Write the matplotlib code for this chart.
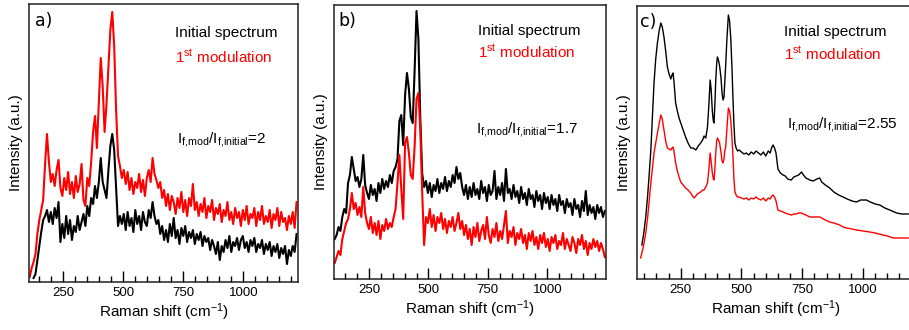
import numpy as np
import matplotlib
matplotlib.use("Agg")
import matplotlib.pyplot as plt
from matplotlib.ticker import MultipleLocator

plt.rcParams['font.family'] = ['Liberation Sans', 'DejaVu Sans']
plt.rcParams['mathtext.default'] = 'regular'

# ---- data (intensity in arbitrary units) ----
# panel a: noisy spectra sampled every 8 cm-1
a_red_start = 110
a_red = [5, 14, 20, 28, 48, 62, 72, 82, 118, 148,
         120, 100, 108, 96, 112, 122, 94, 86, 104, 92,
         110, 88, 100, 84, 106, 90, 98, 118, 82, 76,
         104, 96, 120, 150, 166, 134, 178, 224, 196, 150,
         178, 214, 252, 270, 236, 172, 126, 116, 104, 112,
         98, 110, 92, 104, 88, 100, 94, 108, 90, 102,
         86, 104, 112, 100, 124, 108, 102, 94, 100, 84,
         92, 76, 88, 72, 86, 80, 68, 84, 74, 90,
         70, 82, 66, 84, 76, 98, 72, 80, 66, 78,
         70, 84, 64, 76, 70, 82, 62, 74, 68, 78,
         60, 72, 66, 80, 62, 70, 58, 74, 64, 70,
         56, 72, 62, 76, 58, 68, 64, 74, 56, 70,
         62, 76, 58, 66, 60, 72, 54, 68, 62, 74,
         56, 70, 60, 64, 52, 66, 58, 70, 54, 80]
a_black_start = 126
a_black = [4, 8, 22, 36, 50, 62, 66, 72, 60, 70,
           58, 74, 64, 80, 40, 58, 44, 66, 48, 62,
           42, 56, 50, 66, 52, 60, 68, 56, 76, 66,
           84, 78, 96, 84, 100, 124, 100, 92, 84, 112,
           136, 148, 132, 94, 56, 66, 58, 68, 52, 70,
           56, 64, 50, 72, 58, 66, 52, 70, 60, 56,
           72, 64, 80, 66, 58, 62, 48, 56, 42, 52,
           40, 58, 46, 64, 44, 52, 38, 54, 46, 56,
           40, 50, 44, 52, 38, 48, 42, 50, 36, 46,
           40, 44, 32, 42, 36, 28, 40, 22, 36, 30,
           42, 34, 46, 30, 40, 36, 44, 32, 42, 46,
           34, 40, 30, 42, 36, 44, 30, 38, 34, 42,
           28, 38, 32, 40, 26, 36, 30, 38, 24, 34,
           28, 36, 18, 32, 26, 36, 30, 48]

# panel b
b_start = 106
b_black = [40, 44, 52, 48, 62, 70, 66, 96, 104, 122,
           110, 98, 102, 92, 100, 124, 94, 86, 80, 94,
           84, 90, 78, 96, 86, 100, 90, 98, 92, 104,
           96, 108, 112, 120, 158, 164, 134, 184, 206, 190,
           162, 156, 208, 268, 240, 160, 105, 92, 98, 86,
           96, 82, 94, 88, 100, 86, 96, 90, 102, 88,
           98, 92, 104, 96, 112, 100, 106, 92, 84, 94,
           80, 92, 82, 96, 84, 90, 80, 98, 86, 92,
           78, 94, 84, 88, 108, 80, 92, 84, 96, 78,
           110, 86, 90, 80, 94, 82, 88, 76, 92, 80,
           86, 74, 90, 80, 84, 72, 88, 78, 84, 70,
           86, 76, 82, 70, 84, 74, 80, 68, 84, 74,
           78, 66, 80, 72, 76, 64, 80, 70, 74, 62,
           78, 68, 88, 64, 74, 66, 72, 60, 74, 66, 72, 62, 68]
b_red = [16, 22, 28, 24, 40, 48, 56, 60, 70, 86,
         70, 76, 64, 72, 62, 92, 66, 56, 50, 62,
         46, 56, 44, 58, 40, 54, 48, 60, 50, 56,
         52, 62, 70, 96, 124, 90, 60, 136, 142, 126,
         104, 100, 132, 180, 186, 150, 86, 34, 62, 56,
         70, 52, 64, 48, 62, 56, 66, 50, 60, 46,
         58, 52, 62, 48, 56, 66, 50, 58, 44, 54,
         40, 50, 34, 52, 42, 56, 38, 48, 54, 40,
         62, 44, 36, 50, 42, 56, 38, 48, 40, 54,
         68, 36, 48, 42, 52, 34, 46, 40, 50, 36,
         44, 30, 46, 38, 48, 34, 42, 30, 44, 36,
         46, 32, 40, 28, 42, 36, 44, 30, 38, 34,
         46, 30, 40, 34, 28, 42, 36, 26, 40, 34,
         44, 30, 38, 24, 36, 30, 40, 32, 38, 28, 36, 30, 22]

# panel c: smoother spectra
c_black_x = [90, 98, 106, 114, 120, 127, 134, 140, 147, 154, 161, 168, 174, 181, 188,
             195, 202, 209, 214, 218, 222, 229, 236, 243, 250, 260, 270, 280, 291, 301,
             312, 322, 332, 340, 346, 353, 360, 366, 371, 375, 380, 384, 387, 391, 394,
             398, 401, 405, 410, 416, 420, 424, 428, 431, 435, 440, 446, 451, 456, 461,
             465, 469, 473, 478, 484, 490, 500, 510, 520, 530, 540, 550, 560, 570, 580,
             590, 600, 610, 618, 625, 630, 636, 642, 650, 660, 671, 680, 690, 705, 715,
             725, 735, 747, 755, 765, 781, 795, 810, 822, 830, 845, 863, 880, 900, 918,
             935, 955, 973, 990, 1014, 1030, 1050, 1069, 1090, 1110, 1138, 1160, 1186]
c_black = [34, 46, 62, 84, 104, 129, 165, 196, 220, 236, 248, 256, 252, 242, 228,
           212, 205, 200, 204, 206, 198, 176, 168, 161, 156, 149, 142, 136, 131, 131,
           129, 133, 136, 139, 143, 141, 152, 175, 199, 190, 168, 158, 156, 178, 198,
           216, 222, 219, 213, 200, 186, 179, 182, 196, 214, 240, 264, 258, 240, 210,
           180, 154, 136, 131, 128, 129, 127, 125, 126, 124, 127, 125, 128, 126, 124,
           127, 123, 128, 126, 132, 134, 131, 126, 110, 106, 104, 103, 100, 99, 102,
           103, 104, 107, 104, 101, 99, 98, 100, 101, 97, 94, 91, 87, 84, 82,
           80, 78, 77, 79, 79, 77, 75, 74, 71, 69, 66, 65, 65]
c_red_x = [85, 92, 99, 106, 114, 120, 127, 134, 140, 147, 154, 161, 168, 174, 181,
           188, 195, 202, 209, 214, 218, 222, 229, 236, 243, 250, 260, 270, 280, 291,
           298, 305, 312, 318, 325, 332, 340, 346, 353, 360, 366, 371, 375, 380, 384,
           387, 391, 394, 398, 401, 405, 410, 416, 420, 424, 428, 431, 435, 440, 446,
           451, 456, 461, 465, 469, 473, 478, 484, 490, 500, 510, 520, 530, 540, 550,
           560, 570, 580, 590, 600, 610, 618, 625, 630, 636, 642, 650, 660, 671, 680,
           690, 705, 715, 725, 735, 747, 755, 765, 781, 795, 810, 822, 830, 845, 863,
           880, 904, 918, 932, 955, 973, 1000, 1028, 1050, 1083, 1100, 1124, 1150, 1186]
c_red = [21, 28, 36, 46, 62, 78, 96, 112, 126, 136, 146, 155, 164, 160, 149,
         138, 131, 130, 129, 131, 132, 128, 116, 108, 102, 97, 94, 91, 89, 86,
         83, 81, 83, 85, 86, 87, 89, 89, 92, 96, 110, 126, 118, 106, 100,
         99, 112, 126, 138, 141, 139, 136, 126, 118, 116, 120, 128, 132, 150, 171,
         168, 159, 140, 122, 100, 87, 84, 82, 82, 81, 80, 81, 79, 81, 80,
         82, 80, 79, 81, 78, 81, 80, 83, 84, 82, 78, 69, 68, 67, 66,
         65, 64, 65, 65, 66, 66, 65, 64, 62, 62, 62, 62, 61, 59, 57,
         56, 54, 52, 51, 50, 49, 48, 47, 46, 44, 43, 41, 41, 41]

ratio_labels = ['2', '1.7', '2.55']
panel_tags = ['a)', 'b)', 'c)']
xticks_major = [250, 500, 750, 1000]

# ---- figure ----
W, H = 909, 330
fig = plt.figure(figsize=(W / 100, H / 100), dpi=100)


def px_axes(left, right, top, bottom):
    return fig.add_axes([left / W, (H - bottom) / H, (right - left) / W, (bottom - top) / H])


ax_a = px_axes(29, 298, 4, 282)
ax_b = px_axes(334, 606, 5, 279)
ax_c = px_axes(637, 915, 6, 279)

ax_a.plot(a_black_start + 8 * np.arange(len(a_black)), a_black, color='black', lw=1.5)
ax_a.plot(a_red_start + 8 * np.arange(len(a_red)), a_red, color='red', lw=1.5)
ax_b.plot(b_start + 8 * np.arange(len(b_black)), b_black, color='black', lw=1.5)
ax_b.plot(b_start + 8 * np.arange(len(b_red)), b_red, color='red', lw=1.5)
ax_c.plot(c_black_x, c_black, color='black', lw=1.0)
ax_c.plot(c_red_x, c_red, color='red', lw=1.0)

ax_a.set_xlim(107, 1228)
ax_a.set_ylim(0, 278)
ax_b.set_xlim(103, 1247)
ax_b.set_ylim(0, 274)
ax_c.set_xlim(70, 1214)
ax_c.set_ylim(0, 273)

# text positions in axes fractions: (tag), (legend x, initial y, mod y), (ratio x, y)
text_pos = [
    (0.022, 0.94, 0.543, 0.881, 0.791, 0.549, 0.50),
    (0.015, 0.94, 0.529, 0.891, 0.807, 0.523, 0.533),
    (0.012, 0.94, 0.529, 0.891, 0.805, 0.540, 0.553),
]

for ax, tag, ratio, pos in zip([ax_a, ax_b, ax_c], panel_tags, ratio_labels, text_pos):
    tx, ty, lx, y1, y2, rx, ry = pos
    ax.set_yticks([])
    ax.set_xticks(xticks_major)
    ax.xaxis.set_minor_locator(MultipleLocator(50))
    ax.tick_params(axis='x', which='major', direction='in', length=8, width=1.0,
                   labelsize=9.5, pad=3.5)
    ax.tick_params(axis='x', which='minor', direction='in', length=4.3, width=1.0)
    for s in ax.spines.values():
        s.set_linewidth(1.1)
        s.set_color('#222222')
    ax.set_xlabel('Raman shift (cm$^{-1}$)', fontsize=11, labelpad=2)
    ax.set_ylabel('Intensity (a.u.)', fontsize=11, labelpad=4)
    ax.text(tx, ty, tag, transform=ax.transAxes, fontsize=12.5, va='center', ha='left',
            family='DejaVu Sans')
    ax.text(lx, y1, 'Initial spectrum', transform=ax.transAxes, fontsize=11,
            va='baseline', color='black')
    ax.text(lx, y2, '1$^{st}$ modulation', transform=ax.transAxes, fontsize=11,
            va='baseline', color='red')
    ax.text(rx, ry, '$I_{f{,}mod}/I_{f{,}initial}$=' + ratio, transform=ax.transAxes,
            fontsize=11, va='baseline', color='black')

fig.savefig('out.png', dpi=100)
